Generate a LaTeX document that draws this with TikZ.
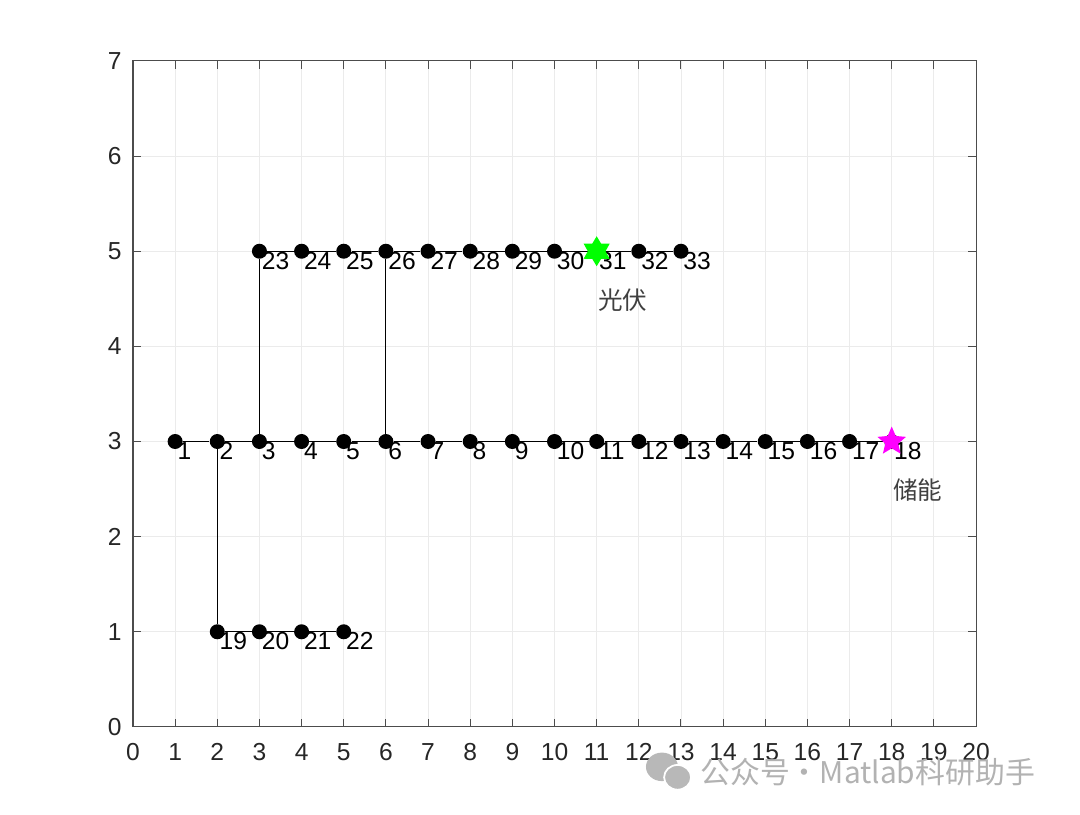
\documentclass[tikz,border=0pt]{standalone}
\usepackage{fontspec}
\setmainfont{Liberation Sans}
\newfontfamily\cjk{Noto Sans CJK SC}
\usepackage{tikz}
\usetikzlibrary{calc, positioning, shapes.geometric}

\definecolor{pvgreen}{rgb}{0,1,0}
\definecolor{essmagenta}{rgb}{1,0,1}

\tikzset{
    bus/.style={circle, fill=black, inner sep=0pt, minimum size=0.3cm},
    busnum/.style={anchor=west, inner sep=0pt, font=\fontsize{14}{16}\selectfont},
    axline/.style={draw=black!70, line width=0.6pt},
    ticklbl/.style={inner sep=0pt, text=black!85, font=\fontsize{14}{16}\selectfont},
    cjklbl/.style={anchor=west, inner sep=0pt, text=black!75, font=\cjk\fontsize{14}{16}\selectfont},
}

\begin{document}
\begin{tikzpicture}[x=0.8431cm, y=1.9028cm]
    \useasboundingbox (-3.155,-0.925) rectangle (22.467,7.641);

    % grid and axes
    \foreach \x in {1,...,19} \draw[black!8, line width=0.5pt] (\x,0) -- (\x,7);
    \foreach \y in {1,...,6} \draw[black!8, line width=0.5pt] (0,\y) -- (20,\y);
    \foreach \x in {0,...,20} {
        \draw[axline] (\x,0) -- ++(0,0.084) (\x,7) -- ++(0,-0.084);
        \node[ticklbl, anchor=north, yshift=-0.33cm] at (\x,0) {\x};
    }
    \foreach \y in {0,...,7} {
        \draw[axline] (0,\y) -- ++(0.19,0) (20,\y) -- ++(-0.19,0);
        \node[ticklbl, anchor=east, xshift=-0.22cm] at (0,\y) {\y};
    }
    \draw[axline] (0,0) rectangle (20,7);

    % buses
    \foreach \i in {1,...,18} \node[bus] (n\i) at (\i,3) {};
    \foreach \i [evaluate=\i as \x using int(\i-17)] in {19,...,22} \node[bus] (n\i) at (\x,1) {};
    \foreach \i [evaluate=\i as \x using int(\i-20)] in {23,...,33} \node[bus] (n\i) at (\x,5) {};

    % lines
    \foreach \i [count=\j from 2] in {1,...,17} \draw[line width=0.5pt] (n\i) -- (n\j);
    \foreach \i [count=\j from 20] in {19,...,21} \draw[line width=0.5pt] (n\i) -- (n\j);
    \foreach \i [count=\j from 24] in {23,...,32} \draw[line width=0.5pt] (n\i) -- (n\j);
    \draw[line width=0.5pt] (n2) -- (n19);
    \draw[line width=0.5pt] (n3) -- (n23);
    \draw[line width=0.5pt] (n6) -- (n26);

    \foreach \i in {1,...,33} \node[busnum] (t\i) at ($(n\i.center)+(0.05,-0.1)$) {\i};

    % PV and storage
    \node[star, star points=6, star point ratio=1.7, fill=pvgreen, inner sep=0pt, minimum size=0.6cm] (pv) at (n31) {};
    \node[star, star points=5, star point ratio=2.2, fill=essmagenta, inner sep=0pt, minimum size=0.6cm] (ess) at (n18) {};
    \node[cjklbl] (pvlbl) at ($(pv.center)+(0.03,-0.51)$) {光伏};
    \node[cjklbl] (esslbl) at ($(ess.center)+(0.03,-0.51)$) {储能};

    % watermark
    \fill[black!28] (12.55,-0.42) ellipse (0.38 and 0.15);
    \fill[black!28, draw=white, line width=1pt] (12.92,-0.53) ellipse (0.32 and 0.13);
    \node[anchor=west, inner sep=0pt, text=black!30, font=\cjk\fontsize{17}{19}\selectfont] (wm) at (13.45,-0.48) {公众号·Matlab科研助手};
\end{tikzpicture}
\end{document}
